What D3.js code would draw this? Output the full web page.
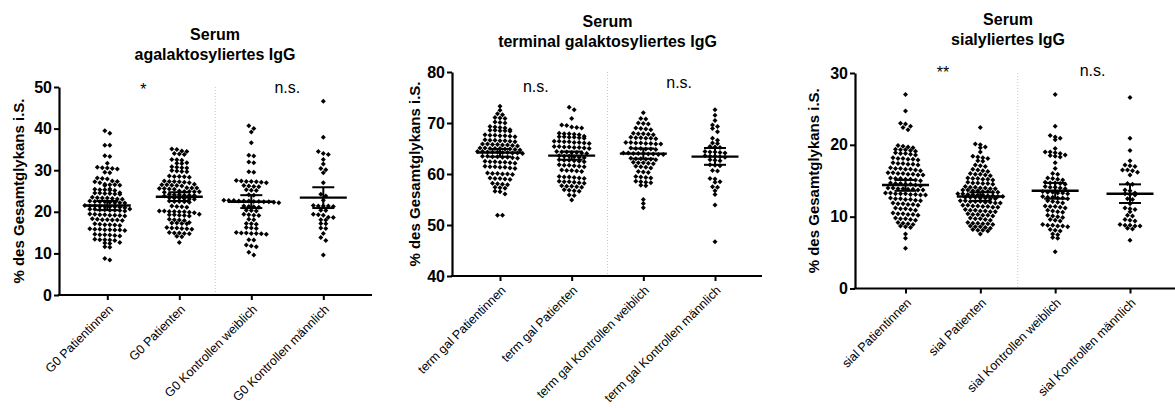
<!DOCTYPE html>
<html><head><meta charset="utf-8">
<script src="https://cdn.jsdelivr.net/npm/d3@7"></script>
<style>body{margin:0;background:#fff} svg{display:block} text{font-family:"Liberation Sans",Arial,sans-serif;fill:#000}</style>
</head><body><svg id="c" width="1175" height="408"></svg>
<script>
// ---------- DATA ----------
const g0Categories = ["G0 Patientinnen","G0 Patienten","G0 Kontrollen weiblich","G0 Kontrollen männlich"];
const g0Ticks = [0,10,20,30,40,50];
const g0Patientinnen = [39.5,38.9,36.0,36.0,33.5,33.3,31.7,30.7,30.5,30.4,30.6,30.3,29.5,29.4,28.1,28.0,27.9,27.3,27.2,27.4,27.0,26.5,26.6,26.4,26.3,26.5,25.3,25.4,25.2,25.5,25.1,25.3,24.5,24.4,24.6,24.3,24.5,24.2,24.4,23.3,23.2,23.4,23.1,23.5,23.0,23.3,22.4,22.3,22.2,22.5,22.1,22.4,22.6,22.2,21.3,21.2,21.4,21.1,21.5,21.0,21.3,21.2,21.4,20.5,20.4,20.6,20.3,20.7,20.2,20.5,20.4,20.6,19.3,19.2,19.4,19.1,19.5,19.0,19.3,19.2,18.1,18.0,18.2,17.9,18.3,18.1,18.0,16.9,16.8,17.0,16.7,17.1,16.9,15.7,15.6,15.8,15.5,15.9,15.6,15.7,15.8,14.5,14.4,14.6,14.3,14.5,14.2,13.3,13.2,13.4,13.1,13.3,12.5,12.4,12.6,11.5,11.6,8.8,8.4];
const g0Patienten = [35.1,34.6,35.0,34.5,33.8,34.0,33.9,32.5,32.4,32.6,31.7,31.6,31.8,30.7,30.6,30.5,30.8,29.8,29.7,29.9,29.6,28.5,28.4,28.6,28.3,28.5,27.3,27.2,27.4,27.1,27.3,27.0,26.5,26.4,26.6,26.3,26.5,26.2,25.7,25.6,25.8,25.5,25.7,25.4,25.6,24.9,24.8,25.0,24.7,24.9,24.8,24.1,24.0,24.2,23.9,24.1,24.0,23.8,23.3,23.2,23.4,23.1,23.3,23.0,22.5,22.4,22.6,22.3,22.5,21.3,21.2,21.4,21.1,20.1,20.0,20.2,19.9,20.1,19.8,20.0,20.2,19.3,19.2,19.4,19.1,19.3,19.0,18.1,18.0,18.2,17.9,17.3,17.2,17.4,17.1,17.3,16.1,16.0,16.2,15.9,16.1,15.8,14.9,14.8,15.0,14.7,14.9,14.1,14.0,12.6];
const g0KontrollenW = [40.7,40.0,39.2,36.6,33.6,33.4,32.0,31.8,29.6,29.5,27.3,27.2,27.4,27.1,27.3,27.5,27.0,26.2,26.1,26.3,26.0,25.2,25.3,25.1,24.0,24.1,22.6,22.5,22.7,22.4,22.6,22.3,22.8,22.5,22.4,22.6,22.2,22.7,21.2,21.3,21.1,21.4,20.3,20.2,20.4,19.3,19.2,19.4,19.1,18.1,18.2,17.1,17.2,17.0,16.1,16.2,16.0,14.8,14.9,14.7,15.0,14.8,14.6,14.9,13.3,13.2,12.0,11.8,11.6,10.3,9.6];
const g0KontrollenM = [46.6,37.9,34.5,34.0,33.8,32.6,31.5,30.4,30.1,29.4,27.0,24.2,23.8,22.8,21.4,21.4,21.3,21.5,21.4,20.4,20.3,19.3,19.2,19.4,18.7,18.6,18.1,18.0,17.1,17.2,16.1,16.0,14.8,13.8,13.1,9.6];
const g0Mean = [21.5,23.6,22.4,23.4];
const g0Low  = [20.4,22.6,20.9,20.9];
const g0High = [22.6,24.7,24.0,25.9];
const g0Sig  = ["*","n.s."];

const tgCategories = ["term gal Patientinnen","term gal Patienten","term gal Kontrollen weiblich","term gal Kontrollen männlich"];
const tgTicks = [40,50,60,70,80];
const tgPatientinnen = [73.3,72.5,71.8,71.6,71.0,70.9,71.1,70.2,70.1,70.0,69.2,69.1,69.3,69.0,68.6,68.5,68.7,68.4,68.6,68.5,67.6,67.5,67.7,67.4,67.6,67.3,67.5,66.6,66.5,66.7,66.4,66.6,66.5,66.3,65.8,65.7,65.9,65.6,65.8,65.5,65.7,65.9,65.0,64.9,65.1,64.8,65.0,64.7,64.9,65.1,65.0,64.3,64.2,64.4,64.1,64.3,64.0,64.2,64.4,64.3,64.1,63.4,63.3,63.5,63.2,63.4,63.1,63.3,63.5,62.4,62.3,62.5,62.2,62.4,62.1,62.3,61.4,61.3,61.5,61.2,61.4,61.1,61.3,60.1,60.0,60.2,59.9,60.1,60.0,59.1,59.0,59.2,58.9,59.1,58.1,58.0,58.2,57.9,57.4,57.3,57.2,56.6,56.5,56.1,51.9,51.9];
const tgPatienten = [73.1,72.6,70.9,69.6,69.5,69.1,69.0,69.2,67.9,67.8,68.0,67.7,67.9,67.3,67.2,67.4,67.1,67.3,67.0,67.2,66.3,66.2,66.4,66.1,66.3,66.0,66.2,66.4,65.3,65.2,65.4,65.1,65.3,65.0,65.2,65.4,64.3,64.2,64.4,64.1,64.3,64.0,64.2,63.5,63.4,63.6,63.3,63.5,63.2,62.7,62.6,62.8,62.5,62.7,62.4,61.7,61.6,61.8,61.5,61.7,61.4,60.7,60.6,60.8,60.5,60.7,59.4,59.3,59.5,59.2,59.4,59.1,58.5,58.4,58.6,58.3,58.5,58.2,57.6,57.5,57.7,57.4,57.6,56.8,56.7,56.9,56.6,55.9,55.8,54.9];
const tgKontrollenW = [72.0,70.9,70.8,69.9,69.8,70.0,68.9,68.8,69.0,68.7,67.9,67.8,68.0,67.7,67.9,67.1,67.0,67.2,66.9,67.1,67.0,66.1,66.0,66.2,65.9,66.1,66.0,66.2,65.9,65.0,64.9,65.1,64.8,65.0,64.9,64.0,63.9,64.1,63.8,64.0,63.9,64.1,63.8,64.0,63.0,62.9,63.1,62.8,63.0,62.9,62.2,62.1,62.3,62.0,62.2,61.4,61.3,61.5,61.2,60.4,60.3,60.5,59.4,59.3,59.5,59.2,58.5,58.4,58.6,58.3,57.8,57.7,55.0,54.2,53.4];
const tgKontrollenM = [72.6,71.5,70.5,69.6,69.3,68.9,68.3,67.0,66.6,66.1,66.0,65.3,65.2,65.4,64.3,64.2,64.4,64.3,64.1,63.5,63.4,63.6,63.3,63.5,62.7,62.6,62.8,61.7,61.6,61.8,60.7,60.6,59.1,59.0,58.5,58.4,57.5,57.4,56.7,56.0,53.9,46.7];
const tgMean = [64.2,63.6,64.0,63.4];
const tgLow  = [63.4,62.8,63.0,61.8];
const tgHigh = [64.9,64.4,65.0,65.1];
const tgSig  = ["n.s.","n.s."];

const sialCategories = ["sial Patientinnen","sial Patienten","sial Kontrollen weiblich","sial Kontrollen männlich"];
const sialTicks = [0,10,20,30];
const sialPatientinnen = [27.0,24.7,23.0,22.9,22.6,22.4,22.1,19.8,19.7,19.9,19.6,19.3,19.2,19.4,19.1,19.3,18.8,18.7,18.9,18.6,18.8,18.1,18.0,18.2,17.9,18.1,18.0,17.4,17.3,17.5,17.2,17.4,17.3,16.7,16.6,16.8,16.5,16.7,16.6,16.4,16.0,15.9,16.1,15.8,16.0,15.9,16.1,15.8,15.3,15.2,15.4,15.1,15.3,15.2,15.0,14.6,14.5,14.7,14.4,14.6,14.5,14.3,13.9,13.8,14.0,13.7,13.9,13.8,14.0,13.7,13.2,13.1,13.3,13.0,13.2,13.1,13.3,13.0,13.2,12.5,12.4,12.6,12.3,12.5,12.4,12.2,11.8,11.7,11.9,11.6,11.8,11.7,11.1,11.0,11.2,10.9,11.1,10.4,10.3,10.5,10.2,10.4,10.3,9.7,9.6,9.8,9.5,9.7,9.1,9.0,9.2,8.9,8.6,8.5,8.7,7.6,7.0,5.6];
const sialPatienten = [22.4,20.1,20.0,19.7,19.6,19.0,18.3,18.2,18.4,18.1,17.8,17.7,17.2,17.1,17.0,16.5,16.4,16.3,16.6,15.9,15.8,16.0,15.7,15.9,15.3,15.2,15.4,15.1,15.3,15.2,14.7,14.6,14.8,14.5,14.7,14.6,14.1,14.0,14.2,13.9,14.1,14.0,13.9,13.6,13.5,13.7,13.4,13.6,13.5,13.7,13.4,13.1,13.0,13.2,12.9,13.1,13.0,13.2,12.9,12.7,12.6,12.8,12.5,12.7,12.6,12.8,12.5,12.7,12.1,12.0,12.2,11.9,12.1,12.0,12.2,11.9,12.1,11.5,11.4,11.6,11.3,11.5,11.4,11.6,11.3,10.9,10.8,11.0,10.7,10.9,10.8,10.7,10.3,10.2,10.4,10.1,10.3,10.2,9.7,9.6,9.8,9.5,9.7,9.1,9.0,9.2,8.9,9.1,9.0,8.6,8.5,8.7,8.4,8.6,8.1,8.0,8.2,8.1,7.6];
const sialKontrollenW = [27.0,22.6,21.3,21.1,20.9,20.7,19.5,19.0,18.9,19.0,18.8,18.5,18.4,18.6,18.3,17.5,16.7,16.0,15.9,15.3,15.2,15.4,15.1,14.7,14.6,14.8,14.5,14.7,14.1,14.0,14.2,13.9,14.1,13.4,13.3,13.5,13.2,13.4,13.3,12.7,12.6,12.8,12.5,12.7,12.6,12.1,12.0,12.2,11.9,11.4,11.3,11.5,11.2,11.4,10.8,10.7,10.9,10.6,10.1,10.0,10.2,9.9,9.5,9.4,9.6,8.8,8.7,8.9,8.6,8.8,8.7,8.1,8.0,8.2,7.6,7.5,7.1,7.0,5.1];
const sialKontrollenM = [26.6,20.9,19.2,17.8,17.2,17.1,17.0,16.5,16.4,16.5,16.2,15.8,14.6,14.5,13.7,13.6,13.2,13.1,13.3,13.0,12.5,12.4,11.8,11.1,11.0,11.2,10.7,10.2,10.1,9.5,9.4,9.6,8.8,8.7,8.9,8.8,8.7,8.3,8.4,6.7];
const sialMean = [14.4,12.8,13.6,13.2];
const sialLow  = [13.6,12.2,12.5,11.9];
const sialHigh = [15.1,13.4,14.7,14.5];
const sialSig  = ["**","n.s."];

const yLabel = "% des Gesamtglykans i.S.";

// ---------- LAYOUT ----------
const panels = [
  {title:["Serum","agalaktosyliertes IgG"], cats:g0Categories, series:[g0Patientinnen,g0Patienten,g0KontrollenW,g0KontrollenM],
   mean:g0Mean, low:g0Low, high:g0High, ticks:g0Ticks, sig:g0Sig,
   L:{ax:59, top:87, bottom:295, xEnd:372, t0:107.3, t1:323.3, titleX:215, titleY:[40,59.5], ylabX:19, sigY:[95,93.3]}},
  {title:["Serum","terminal galaktosyliertes IgG"], cats:tgCategories, series:[tgPatientinnen,tgPatienten,tgKontrollenW,tgKontrollenM],
   mean:tgMean, low:tgLow, high:tgHigh, ticks:tgTicks, sig:tgSig,
   L:{ax:452, top:72, bottom:276, xEnd:762, t0:500, t1:715, titleX:607.5, titleY:[27,47], ylabX:415, sigY:[91.7,88.3]}},
  {title:["Serum","sialyliertes IgG"], cats:sialCategories, series:[sialPatientinnen,sialPatienten,sialKontrollenW,sialKontrollenM],
   mean:sialMean, low:sialLow, high:sialHigh, ticks:sialTicks, sig:sialSig,
   L:{ax:855, top:73, bottom:288.5, xEnd:1175, t0:905.5, t1:1130, titleX:1008, titleY:[25,45], ylabX:813.5, sigY:[78,76]}}
];

const svg = d3.select("#c");
const FONT = '"Liberation Sans", Arial, sans-serif';
const ROW_H = 3.4;  // row height for GraphPad-like binning (px)
const STEP = 5.0;   // horizontal spacing inside a row (px)
const R = 2.5;      // diamond half-diagonal

function rowSwarm(values, y) {
  const pts = values.map(v => ({v, y: y(v)})).sort((a, b) => a.y - b.y);
  const rows = [];
  let cur = null;
  pts.forEach(p => {
    if (!cur || p.y - cur.start > ROW_H) { cur = {start: p.y, pts: []}; rows.push(cur); }
    cur.pts.push(p);
  });
  rows.forEach(r => {
    const n = r.pts.length;
    r.pts.forEach((p, k) => { p.x = (k - (n - 1) / 2) * STEP; });
  });
  return pts;
}

const diamond = `M0,${-R}L${R},0L0,${R}L${-R},0Z`;

panels.forEach(P => {
  const L = P.L;
  const g = svg.append("g");
  const y = d3.scaleLinear().domain([P.ticks[0], P.ticks[P.ticks.length - 1]]).range([L.bottom, L.top]);
  const x = d3.scalePoint().domain(P.cats).range([L.t0, L.t1]);

  const sepX = (x(P.cats[1]) + x(P.cats[2])) / 2;
  g.append("line").attr("x1", sepX).attr("x2", sepX).attr("y1", L.top).attr("y2", L.bottom)
    .attr("stroke", "#c8c8c8").attr("stroke-width", 1).attr("stroke-dasharray", "1,2");

  P.series.forEach((vals, i) => {
    const cx = x(P.cats[i]);
    const pts = rowSwarm(vals, y);
    g.append("g").selectAll("path").data(pts).join("path")
      .attr("d", diamond).attr("transform", p => `translate(${cx + p.x},${p.y})`).attr("fill", "#000");
    const my = y(P.mean[i]);
    g.append("line").attr("x1", cx - 23.5).attr("x2", cx + 23.5).attr("y1", my).attr("y2", my)
      .attr("stroke", "#000").attr("stroke-width", 2.4);
    g.append("line").attr("x1", cx).attr("x2", cx).attr("y1", y(P.low[i])).attr("y2", y(P.high[i]))
      .attr("stroke", "#000").attr("stroke-width", 2);
    [P.low[i], P.high[i]].forEach(v => {
      g.append("line").attr("x1", cx - 11).attr("x2", cx + 11).attr("y1", y(v)).attr("y2", y(v))
        .attr("stroke", "#000").attr("stroke-width", 2);
    });
  });

  const ya = g.append("g").attr("transform", `translate(${L.ax},0)`)
    .call(d3.axisLeft(y).tickValues(P.ticks).tickSize(5).tickPadding(2).tickSizeOuter(0));
  ya.select(".domain").attr("stroke", "#000").attr("stroke-width", 2.2);
  ya.selectAll(".tick line").attr("stroke", "#000").attr("stroke-width", 2);
  ya.selectAll(".tick text").attr("font-family", FONT).attr("font-size", 16).attr("font-weight", "bold").attr("fill", "#000");

  g.append("line").attr("x1", L.ax - 1.1).attr("x2", L.xEnd).attr("y1", L.bottom).attr("y2", L.bottom)
    .attr("stroke", "#000").attr("stroke-width", 2.2);
  const xa = g.append("g").attr("transform", `translate(0,${L.bottom})`)
    .call(d3.axisBottom(x).tickSize(5).tickSizeOuter(0));
  xa.select(".domain").remove();
  xa.selectAll(".tick line").attr("stroke", "#000").attr("stroke-width", 2);
  xa.selectAll(".tick text")
    .attr("font-family", FONT).attr("font-size", 12.5).attr("fill", "#000")
    .attr("text-anchor", "end").attr("y", 0).attr("dy", 0)
    .attr("transform", "translate(6,15) rotate(-45)");

  g.append("text").attr("transform", `translate(${L.ylabX},${(L.top + L.bottom) / 2}) rotate(-90)`)
    .attr("text-anchor", "middle").attr("dy", "0.35em")
    .attr("font-family", FONT).attr("font-size", 15).attr("font-weight", "bold").text(yLabel);

  P.title.forEach((t, k) => {
    g.append("text").attr("x", L.titleX).attr("y", L.titleY[k]).attr("text-anchor", "middle")
      .attr("font-family", FONT).attr("font-size", 16).attr("font-weight", "bold").text(t);
  });

  P.sig.forEach((s, k) => {
    const sx = (x(P.cats[2 * k]) + x(P.cats[2 * k + 1])) / 2;
    g.append("text").attr("x", sx).attr("y", L.sigY[k]).attr("text-anchor", "middle")
      .attr("font-family", FONT).attr("font-size", 16).text(s);
  });
});
</script></body></html>
